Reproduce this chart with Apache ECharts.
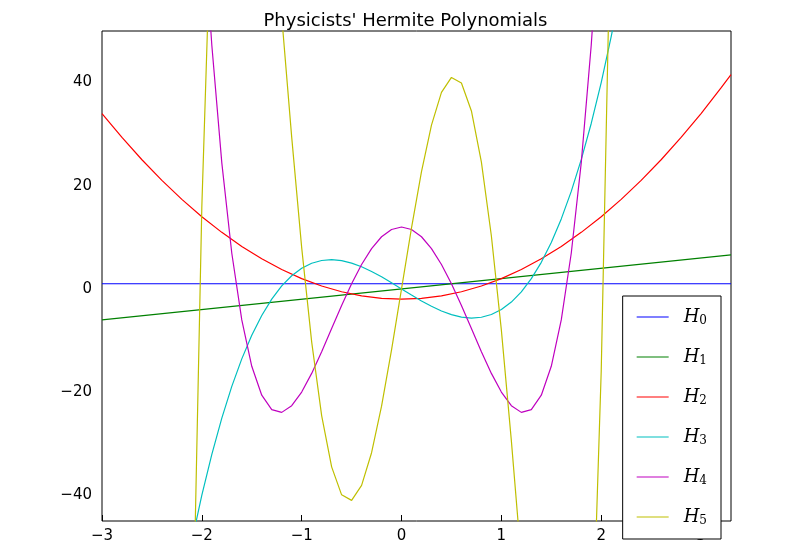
<!DOCTYPE html>
<html><head><meta charset="utf-8">
<script src="https://cdn.jsdelivr.net/npm/echarts@6/dist/echarts.min.js"></script>
<style>html,body{margin:0;padding:0;background:#fff}#c{width:811px;height:542px}</style>
</head><body><div id="c"></div>
<script>
const seriesNames = ['H0','H1','H2','H3','H4','H5'];
const colors = ['#0000ff','#008000','#ff0000','#00bfbf','#bf00bf','#bfbf00'];
const h0 = [[-3,1],[3.3,1]];
const h1 = [[-3,-6],[3.3,6.6]];
const h2x = [-3,-2.8,-2.6,-2.4,-2.2,-2,-1.8,-1.6,-1.4,-1.2,-1,-0.8,-0.6,-0.4,-0.2,0,0.2,0.4,0.6,0.8,1,1.2,1.4,1.6,1.8,2,2.2,2.4,2.6,2.8,3,3.2,3.3];
const h2y = [34,29.36,25.04,21.04,17.36,14,10.96,8.24,5.84,3.76,2,0.56,-0.56,-1.36,-1.84,-2,-1.84,-1.36,-0.56,0.56,2,3.76,5.84,8.24,10.96,14,17.36,21.04,25.04,29.36,34,38.96,41.56];
const h3x = [-2.2,-2.1,-2,-1.9,-1.8,-1.7,-1.6,-1.5,-1.4,-1.3,-1.2,-1.1,-1,-0.9,-0.8,-0.7,-0.6,-0.5,-0.4,-0.3,-0.2,-0.1,0,0.1,0.2,0.3,0.4,0.5,0.6,0.7,0.8,0.9,1,1.1,1.2,1.3,1.4,1.5,1.6,1.7,1.8,1.9,2,2.1,2.2];
const h3y = [-58.78,-48.89,-40,-32.07,-25.06,-18.9,-13.57,-9,-5.15,-1.98,0.58,2.55,4,4.97,5.5,5.66,5.47,5,4.29,3.38,2.34,1.19,0,-1.19,-2.34,-3.38,-4.29,-5,-5.47,-5.66,-5.5,-4.97,-4,-2.55,-0.58,1.98,5.15,9,13.57,18.9,25.06,32.07,40,48.89,58.78];
const h4x = [-2,-1.9,-1.8,-1.7,-1.6,-1.5,-1.4,-1.3,-1.2,-1.1,-1,-0.9,-0.8,-0.7,-0.6,-0.5,-0.4,-0.3,-0.2,-0.1,0,0.1,0.2,0.3,0.4,0.5,0.6,0.7,0.8,0.9,1,1.1,1.2,1.3,1.4,1.5,1.6,1.7,1.8,1.9,2];
const h4y = [76,47.23,24.44,6.91,-6.02,-15,-20.61,-23.42,-23.94,-22.65,-20,-16.38,-12.17,-7.68,-3.21,1,4.73,7.81,10.11,11.52,12,11.52,10.11,7.81,4.73,1,-3.21,-7.68,-12.17,-16.38,-20,-22.65,-23.94,-23.42,-20.61,-15,-6.02,6.91,24.44,47.23,76];
const h5x = [-2.1,-2,-1.9,-1.8,-1.7,-1.6,-1.5,-1.4,-1.3,-1.2,-1.1,-1,-0.9,-0.8,-0.7,-0.6,-0.5,-0.4,-0.3,-0.2,-0.1,0,0.1,0.2,0.3,0.4,0.5,0.6,0.7,0.8,0.9,1,1.1,1.2,1.3,1.4,1.5,1.6,1.7,1.8,1.9,2,2.1];
const h5y = [-77.15,16,77.09,112.46,127.73,127.82,117,98.94,76.71,52.85,29.42,8,-10.26,-24.57,-34.5,-39.93,-41,-38.09,-31.76,-22.73,-11.84,0,11.84,22.73,31.76,38.09,41,39.93,34.5,24.57,10.26,-8,-29.42,-52.85,-76.71,-98.94,-117,-127.82,-127.73,-112.46,-77.09,-16,77.15];
const xTicks = [-3,-2,-1,0,1,2,3];
const yTicks = [-40,-20,0,20,40];

const zip = (xs, ys) => xs.map((x, i) => [x, ys[i]]);
const allData = [h0, h1, zip(h2x,h2y), zip(h3x,h3y), zip(h4x,h4y), zip(h5x,h5y)];
const fmt = v => (v < 0 ? '\u2212' + Math.abs(v) : '' + v);
const chart = echarts.init(document.getElementById('c'));
const lab = {color:'#000', fontSize:15, fontFamily:'DejaVu Sans'};
chart.setOption({
  animation:false,
  title:{text:"Physicists' Hermite Polynomials", left:'center', top:7, textStyle:{fontSize:18, fontWeight:'normal', fontFamily:'DejaVu Sans', color:'#000'}},
  grid:{left:102, right:80, top:31, bottom:21, containLabel:false, outerBoundsMode:'none', show:true, borderColor:'#000', borderWidth:1},
  xAxis:{type:'value', min:-3, max:3.3, interval:1,
    axisLine:{show:false, onZero:false}, splitLine:{show:false},
    axisTick:{show:true, inside:true, length:6, lineStyle:{color:'#000'}},
    axisLabel:{...lab, margin:8, showMaxLabel:false, formatter:v => xTicks.includes(v) ? fmt(v) : ''}},
  yAxis:{type:'value', min:-45, max:50, interval:5,
    axisLine:{show:false, onZero:false}, splitLine:{show:false}, axisTick:{show:false},
    axisLabel:{...lab, margin:10, formatter:v => yTicks.includes(v) ? fmt(v) : ''}},
  legend:{orient:'vertical', right:90, bottom:3, itemWidth:32, itemHeight:10, itemGap:21,
    backgroundColor:'#fff', borderColor:'#000', borderWidth:1, padding:[12,14,12,14],
    icon:'path://M0,4.5L32,4.5L32,5.5L0,5.5Z',
    formatter:n => '{h|H}{s|' + n.slice(1) + '}',
    textStyle:{rich:{h:{fontFamily:'DejaVu Serif', fontStyle:'italic', fontSize:18, color:'#000', padding:[0,0,0,10]}, s:{fontFamily:'DejaVu Serif', fontSize:12, color:'#000', verticalAlign:'bottom', padding:[8,0,0,0]}}}},
  series: seriesNames.map((n, i) => ({name:n, type:'line', data:allData[i], showSymbol:false, smooth:false,
    lineStyle:{color:colors[i], width:1.2}, itemStyle:{color:colors[i]}, clip:true}))
});
</script></body></html>
